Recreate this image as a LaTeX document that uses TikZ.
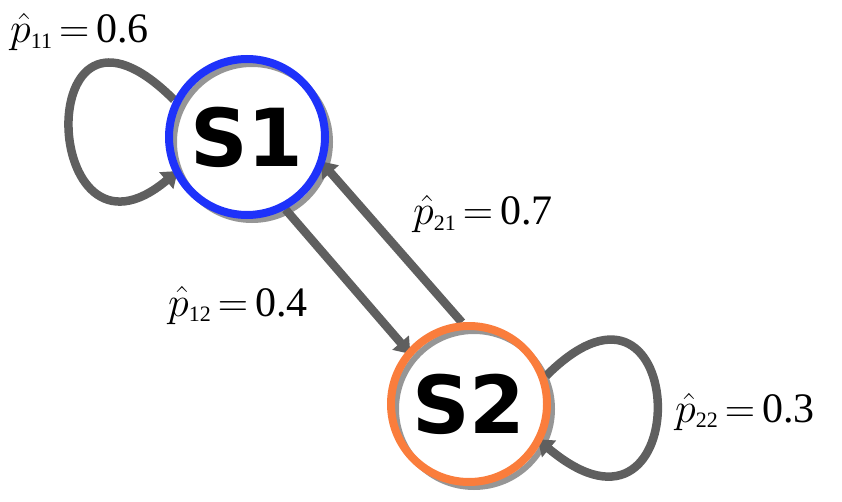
\RequirePackage{fix-cm}
\documentclass[tikz,border=0pt]{standalone}
\usepackage{fontspec}
\setmainfont{Liberation Serif}
\newfontfamily\statefont{DejaVu Sans}
\usetikzlibrary{arrows.meta,backgrounds,calc}
\definecolor{ringblue}{RGB}{30,50,250}
\definecolor{ringorange}{RGB}{250,125,60}
\definecolor{arrgray}{RGB}{95,95,95}
\definecolor{shadowgray}{RGB}{150,150,150}
\newcommand\probtext[2]{$\hat{p}$\raisebox{-0.12em}{\fontsize{22}{22}\selectfont #1}$\,=\,$#2}
\begin{document}
\begin{tikzpicture}[x=1pt,y=1pt,
  state/.style={circle, draw, line width=8pt, minimum size=156pt, inner sep=0pt,
    font=\statefont\bfseries\fontsize{80}{80}\selectfont},
  trans/.style={draw=arrgray, line width=8.5pt, shorten >=-5pt, -{Triangle[length=15pt,width=21pt]}},
  shade/.style={draw=shadowgray, line width=6pt},
  prob/.style={anchor=base west, inner sep=0pt, font=\fontsize{42}{44}\selectfont}]
\useasboundingbox (0,0) rectangle (842,501);
\node[state, draw=ringblue] (S1) at (247,364) {S1};
\node[state, draw=ringorange] (S2) at (469,97) {S2};
\begin{scope}[on background layer]
  \draw[shade] ($(S1.center)+(5,-5)$) circle[radius=78pt];
  \draw[shade] ($(S2.center)+(5,-5)$) circle[radius=78pt];
  \draw[trans] (S1.-62) -- (S2.139);
  \draw[trans] (S2.95) -- (S1.-20);
  \draw[trans] (S1.153) .. controls ($(S1.153)+(135:205)$) and ($(S1.207)+(220:175)$) .. (S1.207);
  \draw[trans] (S2.20) .. controls ($(S2.20)+(45:205)$) and ($(S2.-28)+(-40:205)$) .. (S2.-28);
\end{scope}
\node[prob] (l11) at (10,458) {\probtext{11}{0.6}};
\node[prob] (l12) at (168,185) {\probtext{12}{0.4}};
\node[prob] (l21) at (413,276) {\probtext{21}{0.7}};
\node[prob] (l22) at (675,79) {\probtext{22}{0.3}};
\end{tikzpicture}
\end{document}
